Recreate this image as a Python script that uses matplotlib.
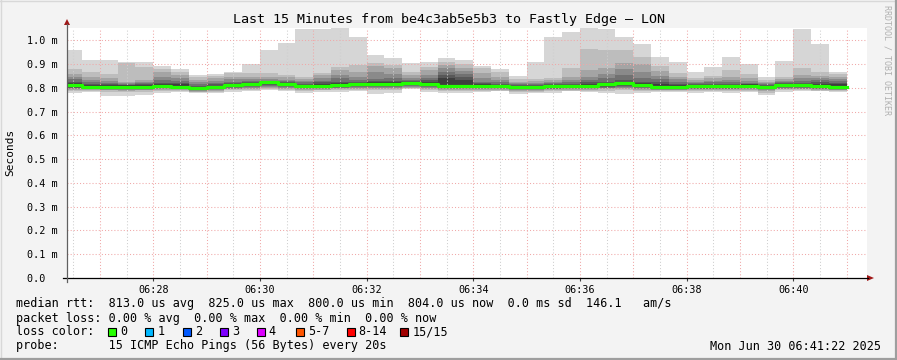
import numpy as np
import matplotlib
matplotlib.use("Agg")
import matplotlib.pyplot as plt
from matplotlib.patches import Polygon, Rectangle
from matplotlib.lines import Line2D

# ---------------- data (RTT in ms, 20 s steps starting 06:26:20) ----------------
start_sec = 26 * 60 + 20          # seconds after 06:00:00
step_sec = 20

median_ms = [0.811, 0.806, 0.806, 0.806, 0.806, 0.810, 0.806, 0.800, 0.804, 0.814,
             0.818, 0.825, 0.818, 0.810, 0.810, 0.814, 0.815, 0.817, 0.817, 0.822,
             0.818, 0.808, 0.808, 0.808, 0.808, 0.804, 0.804, 0.808, 0.808, 0.810,
             0.815, 0.820, 0.814, 0.806, 0.806, 0.807, 0.807, 0.807, 0.810, 0.806,
             0.811, 0.811, 0.807, 0.804]

# upper pings, descending: p15 (max) ... p9
upper_ms = [
    (0.960, 0.879, 0.858, 0.848, 0.837, 0.827, 0.820),
    (0.918, 0.869, 0.845, 0.834, 0.824, 0.817, 0.813),
    (0.918, 0.858, 0.841, 0.829, 0.822, 0.817, 0.811),
    (0.908, 0.904, 0.827, 0.822, 0.818, 0.813, 0.811),
    (0.911, 0.890, 0.834, 0.827, 0.821, 0.817, 0.813),
    (0.893, 0.880, 0.866, 0.848, 0.834, 0.822, 0.817),
    (0.880, 0.866, 0.855, 0.841, 0.829, 0.821, 0.815),
    (0.855, 0.848, 0.834, 0.824, 0.817, 0.810, 0.804),
    (0.859, 0.852, 0.841, 0.829, 0.821, 0.815, 0.810),
    (0.869, 0.862, 0.848, 0.837, 0.827, 0.820, 0.816),
    (0.901, 0.862, 0.848, 0.838, 0.829, 0.824, 0.821),
    (0.960, 0.865, 0.848, 0.838, 0.831, 0.828, 0.826),
    (0.991, 0.855, 0.845, 0.835, 0.829, 0.825, 0.821),
    (1.049, 0.848, 0.838, 0.831, 0.824, 0.818, 0.813),
    (1.049, 0.862, 0.855, 0.841, 0.831, 0.824, 0.818),
    (1.054, 0.890, 0.876, 0.855, 0.841, 0.827, 0.820),
    (1.013, 0.897, 0.869, 0.848, 0.834, 0.827, 0.821),
    (0.939, 0.907, 0.893, 0.869, 0.837, 0.829, 0.824),
    (0.928, 0.897, 0.886, 0.858, 0.841, 0.831, 0.824),
    (0.905, 0.869, 0.855, 0.844, 0.834, 0.829, 0.826),
    (0.911, 0.890, 0.876, 0.855, 0.841, 0.832, 0.827),
    (0.928, 0.911, 0.897, 0.883, 0.869, 0.855, 0.841),
    (0.918, 0.900, 0.886, 0.872, 0.858, 0.848, 0.834),
    (0.894, 0.886, 0.862, 0.841, 0.827, 0.820, 0.815),
    (0.880, 0.869, 0.848, 0.834, 0.824, 0.818, 0.814),
    (0.852, 0.838, 0.827, 0.820, 0.815, 0.813, 0.810),
    (0.911, 0.838, 0.829, 0.822, 0.818, 0.814, 0.810),
    (1.013, 0.844, 0.834, 0.827, 0.821, 0.817, 0.813),
    (1.037, 0.886, 0.848, 0.834, 0.824, 0.817, 0.813),
    (1.054, 0.964, 0.876, 0.848, 0.834, 0.824, 0.818),
    (1.049, 0.960, 0.886, 0.858, 0.841, 0.827, 0.821),
    (1.013, 0.960, 0.904, 0.880, 0.855, 0.834, 0.827),
    (0.985, 0.932, 0.900, 0.866, 0.841, 0.827, 0.820),
    (0.929, 0.894, 0.872, 0.852, 0.838, 0.824, 0.815),
    (0.910, 0.865, 0.848, 0.838, 0.827, 0.818, 0.813),
    (0.867, 0.844, 0.834, 0.827, 0.821, 0.817, 0.813),
    (0.890, 0.852, 0.841, 0.831, 0.824, 0.818, 0.813),
    (0.931, 0.876, 0.848, 0.834, 0.824, 0.818, 0.813),
    (0.902, 0.859, 0.841, 0.829, 0.822, 0.818, 0.815),
    (0.848, 0.834, 0.827, 0.821, 0.817, 0.813, 0.808),
    (0.914, 0.848, 0.837, 0.829, 0.824, 0.820, 0.815),
    (1.049, 0.883, 0.855, 0.841, 0.831, 0.822, 0.817),
    (0.985, 0.869, 0.852, 0.841, 0.832, 0.824, 0.817),
    (0.869, 0.858, 0.848, 0.838, 0.829, 0.822, 0.815),
]

# lower pings, descending: p7 ... p1 (min)
lower_ms = [
    (0.805, 0.801, 0.798, 0.795, 0.792, 0.788, 0.780),
    (0.802, 0.799, 0.797, 0.794, 0.792, 0.789, 0.785),
    (0.802, 0.799, 0.796, 0.793, 0.790, 0.785, 0.768),
    (0.802, 0.799, 0.796, 0.792, 0.789, 0.784, 0.768),
    (0.802, 0.799, 0.796, 0.793, 0.790, 0.785, 0.772),
    (0.806, 0.802, 0.799, 0.796, 0.793, 0.789, 0.780),
    (0.802, 0.799, 0.797, 0.794, 0.791, 0.788, 0.785),
    (0.796, 0.793, 0.790, 0.787, 0.785, 0.782, 0.778),
    (0.800, 0.797, 0.794, 0.791, 0.788, 0.784, 0.778),
    (0.809, 0.805, 0.801, 0.797, 0.794, 0.790, 0.785),
    (0.813, 0.808, 0.804, 0.800, 0.796, 0.792, 0.787),
    (0.818, 0.812, 0.807, 0.803, 0.799, 0.795, 0.792),
    (0.813, 0.809, 0.805, 0.801, 0.797, 0.793, 0.787),
    (0.806, 0.802, 0.798, 0.794, 0.791, 0.787, 0.778),
    (0.806, 0.802, 0.799, 0.796, 0.793, 0.790, 0.785),
    (0.810, 0.806, 0.802, 0.798, 0.795, 0.791, 0.785),
    (0.811, 0.807, 0.803, 0.799, 0.796, 0.792, 0.789),
    (0.812, 0.808, 0.804, 0.800, 0.796, 0.790, 0.775),
    (0.812, 0.808, 0.804, 0.800, 0.796, 0.790, 0.778),
    (0.817, 0.813, 0.809, 0.805, 0.802, 0.799, 0.796),
    (0.813, 0.809, 0.805, 0.801, 0.797, 0.792, 0.785),
    (0.804, 0.801, 0.798, 0.795, 0.792, 0.788, 0.778),
    (0.804, 0.801, 0.798, 0.795, 0.792, 0.788, 0.778),
    (0.804, 0.801, 0.798, 0.795, 0.792, 0.789, 0.785),
    (0.804, 0.801, 0.798, 0.795, 0.792, 0.789, 0.787),
    (0.800, 0.797, 0.794, 0.791, 0.788, 0.783, 0.775),
    (0.800, 0.797, 0.794, 0.791, 0.788, 0.783, 0.778),
    (0.804, 0.801, 0.797, 0.794, 0.791, 0.787, 0.780),
    (0.804, 0.801, 0.798, 0.795, 0.792, 0.789, 0.787),
    (0.806, 0.802, 0.799, 0.796, 0.793, 0.789, 0.785),
    (0.810, 0.806, 0.802, 0.798, 0.794, 0.789, 0.778),
    (0.814, 0.809, 0.805, 0.800, 0.796, 0.790, 0.775),
    (0.809, 0.805, 0.801, 0.797, 0.793, 0.788, 0.778),
    (0.802, 0.799, 0.796, 0.793, 0.790, 0.787, 0.785),
    (0.802, 0.799, 0.796, 0.793, 0.790, 0.787, 0.785),
    (0.803, 0.800, 0.797, 0.794, 0.791, 0.786, 0.780),
    (0.803, 0.800, 0.797, 0.794, 0.791, 0.788, 0.785),
    (0.803, 0.800, 0.797, 0.794, 0.791, 0.786, 0.778),
    (0.806, 0.802, 0.799, 0.796, 0.793, 0.789, 0.785),
    (0.802, 0.798, 0.794, 0.790, 0.786, 0.780, 0.771),
    (0.807, 0.803, 0.800, 0.797, 0.794, 0.790, 0.785),
    (0.807, 0.803, 0.800, 0.797, 0.794, 0.790, 0.787),
    (0.803, 0.800, 0.797, 0.794, 0.791, 0.789, 0.787),
    (0.800, 0.797, 0.795, 0.793, 0.791, 0.788, 0.785),
]

y_ticks = [0.0, 0.1, 0.2, 0.3, 0.4, 0.5, 0.6, 0.7, 0.8, 0.9, 1.0]
y_tick_labels = ["0.0  ", "0.1 m", "0.2 m", "0.3 m", "0.4 m", "0.5 m",
                 "0.6 m", "0.7 m", "0.8 m", "0.9 m", "1.0 m"]
x_tick_labels = ["06:28", "06:30", "06:32", "06:34", "06:36", "06:38", "06:40"]

smoke_colors = ["#d6d6d6", "#bdbdbd", "#a4a4a4", "#8a8a8a", "#717171", "#585858", "#3e3e3e"]
loss_labels = ["0", "1", "2", "3", "4", "5-7", "8-14", "15/15"]
loss_colors = ["#26ff00", "#00b8ff", "#0059ff", "#7e00ff", "#dd00ff", "#ff5500", "#ff0000", "#a10000"]

title = "Last 15 Minutes from be4c3ab5e5b3 to Fastly Edge – LON"
legend_lines = [
    "median rtt:  813.0 us avg  825.0 us max  800.0 us min  804.0 us now  0.0 ms sd  146.1   am/s",
    "packet loss: 0.00 % avg  0.00 % max  0.00 % min  0.00 % now",
    "loss color:",
    "probe:       15 ICMP Echo Pings (56 Bytes) every 20s",
]
stamp = "Mon Jun 30 06:41:22 2025"

# ---------------- figure ----------------
MONO = "DejaVu Sans Mono"
W, H = 897, 360
fig = plt.figure(figsize=(W / 100, H / 100), dpi=100, facecolor="#f3f3f3")


def P(x, y):
    return (x / W, 1 - y / H)


ax = fig.add_axes([67 / W, 1 - 278 / H, 800 / W, 250 / H])
ax.set_facecolor("white")
for s in ax.spines.values():
    s.set_visible(False)

n = len(median_ms)
t = start_sec + step_sec * np.arange(n)
xe = np.append(t, t[-1] + step_sec)
up = np.array(upper_ms)
lo = np.array(lower_ms)
med = np.array(median_ms)


def ext(v):
    return np.append(v, v[-1])


for i, c in enumerate(smoke_colors):
    low = lo[:, 6 - i]
    high = up[:, i]
    ax.fill_between(xe, ext(low), ext(high), step="post", color=c, lw=0, zorder=1,
                    antialiased=False)

xmin = 26 * 60 + 23
xmax = xmin + 900
ax.set_xlim(xmin, xmax)
ax.set_ylim(0, 1.0526)

# grid (drawn over smoke)
dot = (0, (1, 2))
for k in range(27 * 60, 42 * 60, 60):
    if xmin < k < xmax:
        ax.axvline(k, color="#f0a8a8", lw=0.75, ls=dot, zorder=2)
for k in range(26 * 60 + 30, 42 * 60, 60):
    if xmin < k < xmax:
        ax.axvline(k, color="#cfcfcf", lw=0.75, ls=dot, zorder=2)
for yv in y_ticks[1:]:
    ax.axhline(yv, color="#f0a8a8", lw=0.75, ls=dot, zorder=2)

ax.step(xe, ext(med), where="post", color="#22ff00", lw=2.3, zorder=4)

xt = [28 * 60 + 120 * i for i in range(len(x_tick_labels))]
ax.set_xticks(xt)
ax.set_xticklabels(x_tick_labels, family=MONO, fontsize=7.3)
ax.set_yticks(y_ticks)
ax.set_yticklabels(y_tick_labels, family=MONO, fontsize=7.3)
ax.tick_params(axis="x", length=2, pad=3, color="#404040")
ax.tick_params(axis="y", length=0, pad=7)

# axes lines and arrows
fig.add_artist(Line2D([P(63, 278)[0], P(868, 278)[0]], [P(63, 278)[1]] * 2,
                      transform=fig.transFigure, color="black", lw=0.9))
fig.add_artist(Line2D([P(67, 282)[0]] * 2, [P(67, 282)[1], P(67, 24)[1]],
                      transform=fig.transFigure, color="#606060", lw=0.9))
fig.add_artist(Polygon([P(64, 25), P(70, 25), P(67, 19)], closed=True,
                       transform=fig.transFigure, color="#a01818", lw=0))
fig.add_artist(Polygon([P(867, 275), P(867, 281), P(874, 278)], closed=True,
                       transform=fig.transFigure, color="#a01818", lw=0))

# texts
fig.text(*P(448.5, 19), title, ha="center", va="center", family=MONO, fontsize=9.6,
         color="black")
fig.text(*P(10, 152), "Seconds", ha="center", va="center", rotation=90,
         family=MONO, fontsize=8)
fig.text(*P(887, 60), "RRDTOOL / TOBI OETIKER", ha="center", va="center",
         rotation=270, family=MONO, fontsize=6, color="#b0b0b0")

rows_y = [304, 318.3, 331.7, 346]
for line, yy in zip(legend_lines, rows_y):
    fig.text(*P(16, yy), line, ha="left", va="center", family=MONO, fontsize=8.5)

box_x = [108.3, 145.3, 182.7, 219.7, 256.7, 296.0, 346.7, 400.3]
for bx, lab, col in zip(box_x, loss_labels, loss_colors):
    fig.add_artist(Rectangle(P(bx, 335.5), 8 / W, 8 / H, transform=fig.transFigure,
                             facecolor=col, edgecolor="black", lw=0.8))
    fig.text(*P(bx + 12, 331.7), lab, ha="left", va="center", family=MONO, fontsize=8.5)

fig.text(*P(881, 346), stamp, ha="right", va="center", family=MONO, fontsize=8.5)

# frame
fig.add_artist(Line2D([0, 1], [1 - 0.5 / H] * 2, transform=fig.transFigure, color="#d8d8d8", lw=1.0))
fig.add_artist(Line2D([0.5 / W] * 2, [0, 1], transform=fig.transFigure, color="#d8d8d8", lw=1.0))
fig.add_artist(Line2D([0, 1], [1.5 / H] * 2, transform=fig.transFigure, color="#9e9e9e", lw=1.6))
fig.add_artist(Line2D([1 - 1.5 / W] * 2, [0, 1], transform=fig.transFigure, color="#9e9e9e", lw=1.6))

fig.savefig("out.png", dpi=100, facecolor=fig.get_facecolor())
